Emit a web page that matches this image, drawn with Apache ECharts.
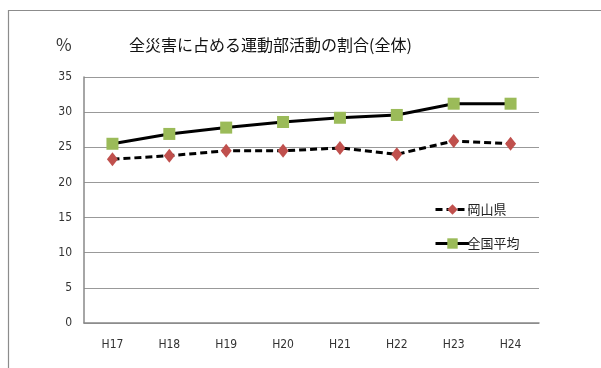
<!DOCTYPE html>
<html><head><meta charset="utf-8">
<script src="https://cdn.jsdelivr.net/npm/echarts@6/dist/echarts.min.js"></script>
<style>html,body{margin:0;padding:0;background:#fff}#c{width:601px;height:368px}</style>
</head><body><div id="c"></div>
<script>
var categories = ['H17','H18','H19','H20','H21','H22','H23','H24'];
var okayama = [23.3, 23.8, 24.5, 24.5, 24.9, 24.0, 25.9, 25.5];
var national = [25.5, 26.9, 27.8, 28.6, 29.2, 29.6, 31.2, 31.2];
var seriesNames = ['岡山県', '全国平均'];
var titleText = '全災害に占める運動部活動の割合(全体)';
var unitText = '%';

var chart = echarts.init(document.getElementById('c'));
var narrow = '"Liberation Sans Narrow","DejaVu Sans Condensed","Noto Sans CJK JP",sans-serif';
chart.setOption({
  animation: false,
  backgroundColor: '#fff',
  graphic: [
    {type: 'rect', shape: {x: 8.5, y: 10.5, width: 700, height: 400}, style: {fill: 'none', stroke: '#8c8c8c', lineWidth: 1.2}},
    {type: 'text', left: 56, top: 36, style: {text: unitText, font: '17px "Noto Sans CJK JP",sans-serif', fill: '#333'}}
  ],
  title: {
    text: titleText, left: 124, top: 32,
    textStyle: {fontFamily: '"Noto Sans CJK JP",sans-serif', fontSize: 16, fontWeight: 'normal', color: '#111'}
  },
  legend: {
    orient: 'vertical', left: 429, top: 198, itemGap: 21, itemWidth: 34, itemHeight: 13,
    data: seriesNames,
    lineStyle: {width: 3},
    textStyle: {fontFamily: '"Noto Sans CJK JP",sans-serif', fontSize: 13, color: '#222', padding: [0,0,0,-7]}
  },
  grid: {left: 84, right: 62, top: 77, bottom: 45},
  xAxis: {
    type: 'category', data: categories, boundaryGap: true,
    axisLine: {lineStyle: {color: '#888', width: 1.5}},
    axisTick: {show: false},
    axisLabel: {color: '#333', fontSize: 12, fontFamily: narrow, margin: 16}
  },
  yAxis: {
    type: 'value', min: 0, max: 35, interval: 5,
    axisLine: {show: true, lineStyle: {color: '#888', width: 1.5}},
    axisTick: {show: false},
    splitLine: {lineStyle: {color: '#999', width: 1.2}},
    axisLabel: {color: '#333', fontSize: 12, fontFamily: narrow, margin: 12}
  },
  series: [
    {
      name: seriesNames[0], type: 'line', data: okayama,
      symbol: 'diamond', symbolSize: [11, 14],
      lineStyle: {color: '#000', width: 3, type: [7, 4]},
      itemStyle: {color: '#C0504D', borderWidth: 0}
    },
    {
      name: seriesNames[1], type: 'line', data: national,
      symbol: 'rect', symbolSize: 12,
      lineStyle: {color: '#000', width: 3},
      itemStyle: {color: '#9BBB59', borderWidth: 0}
    }
  ]
});
</script></body></html>
